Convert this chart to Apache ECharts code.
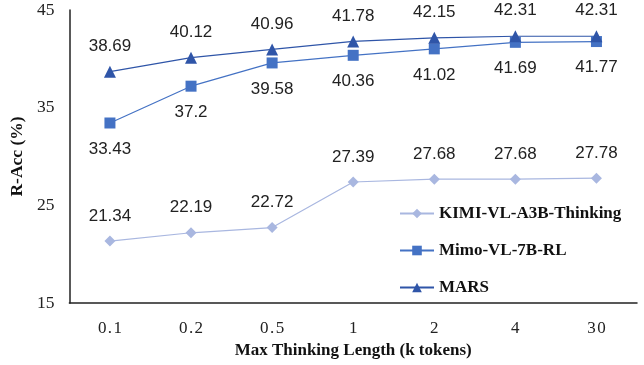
<!DOCTYPE html>
<html><head><meta charset="utf-8">
<script src="https://cdn.jsdelivr.net/npm/echarts@6/dist/echarts.min.js"></script>
<style>html,body{margin:0;padding:0;background:#fff}#c{width:644px;height:365px}</style>
</head><body><div id="c"></div>
<script>
const categories = ['0.1','0.2','0.5','1','2','4','30'];
const kimi = [21.34,22.19,22.72,27.39,27.68,27.68,27.78];
const mimo = [33.43,37.2,39.58,40.36,41.02,41.69,41.77];
const mars = [38.69,40.12,40.96,41.78,42.15,42.31,42.31];
const yTicks = [15,25,35,45];

const SERIF = 'Liberation Serif, Times New Roman, serif';
const chart = echarts.init(document.getElementById('c'));
const lbl = (pos) => ({show:true, position:pos, distance:pos==='top'?11:12, fontFamily:'Liberation Sans, Arial, sans-serif', fontSize:17, color:'#222'});
chart.setOption({
  animation:false,
  grid:{left:68,right:7,top:10,bottom:62},
  legend:{
    orient:'vertical', left:394, top:200, itemGap:20, itemWidth:34, itemHeight:12,
    textStyle:{fontFamily:SERIF, fontWeight:'bold', fontSize:17, color:'#111'},
    data:['KIMI-VL-A3B-Thinking','Mimo-VL-7B-RL','MARS']
  },
  xAxis:{
    type:'category', data:categories, boundaryGap:true,
    name:'Max Thinking Length (k tokens)', nameLocation:'middle', nameGap:38,
    nameTextStyle:{fontFamily:SERIF, fontWeight:'bold', fontSize:17, color:'#111'},
    axisLine:{lineStyle:{color:'#222',width:1.5}}, axisTick:{show:false},
    axisLabel:{fontFamily:SERIF, fontSize:17, color:'#222', margin:17,
      formatter:(v)=> v.split('').join('\u200A')}
  },
  yAxis:{
    type:'value', min:15, max:45, interval:10,
    name:'R-Acc (%)', nameLocation:'middle', nameGap:40, nameRotate:90,
    nameTextStyle:{fontFamily:SERIF, fontWeight:'bold', fontSize:17.5, color:'#111'},
    axisLine:{show:true, lineStyle:{color:'#222',width:1.5}}, axisTick:{show:false},
    splitLine:{show:false},
    axisLabel:{fontFamily:SERIF, fontSize:17.5, color:'#222', margin:15,
      formatter:(v)=> yTicks.includes(v)? String(v):''}
  },
  series:[
    {name:'KIMI-VL-A3B-Thinking', type:'line', data:kimi, symbol:'diamond', symbolSize:11,
      itemStyle:{color:'#A9B7E0'}, lineStyle:{color:'#A9B7E0',width:1.2}, label:lbl('top')},
    {name:'Mimo-VL-7B-RL', type:'line', data:mimo, symbol:'rect', symbolSize:11,
      itemStyle:{color:'#4472C4'}, lineStyle:{color:'#4472C4',width:1.2}, label:lbl('bottom')},
    {name:'MARS', type:'line', data:mars, symbol:'triangle', symbolSize:12,
      itemStyle:{color:'#2F55A8'}, lineStyle:{color:'#2F55A8',width:1.2}, label:lbl('top')}
  ]
});
</script></body></html>
